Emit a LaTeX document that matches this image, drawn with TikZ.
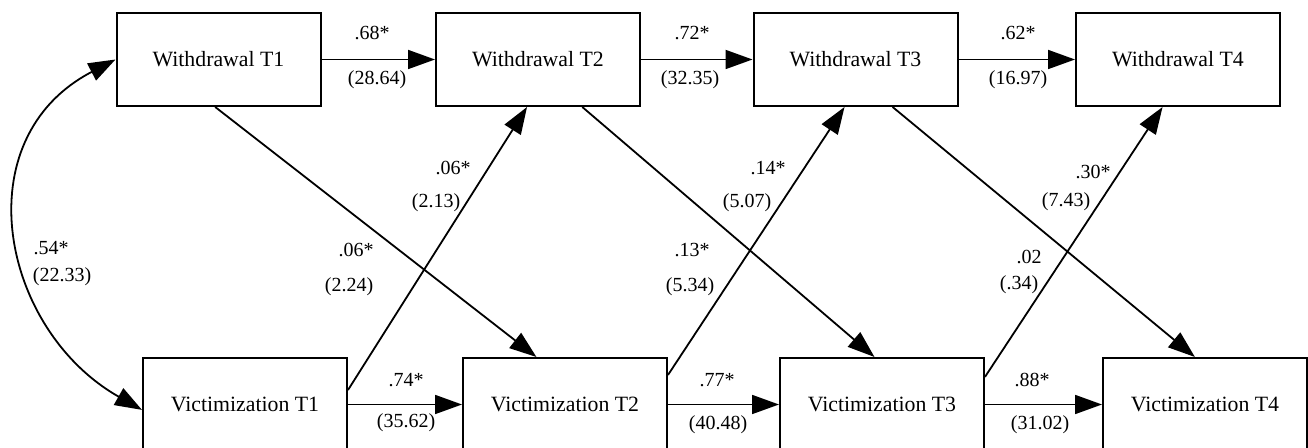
\documentclass[tikz,border=0pt]{standalone}
\usepackage{fontspec}
\setmainfont{Liberation Serif}
\usetikzlibrary{arrows.meta}

\begin{document}
\begin{tikzpicture}[x=0.5pt, y=-0.5pt,
    var/.style={rectangle, draw, line width=1pt, minimum width=102pt, minimum height=46.5pt, font=\fontsize{10.9}{12}\selectfont},
    coef/.style={inner sep=1pt, font=\fontsize{10}{12}\selectfont},
    effect/.style={line width=0.9pt, -{Triangle[length=13.5pt,width=9.5pt]}},
    covar/.style={line width=0.9pt, {Triangle[length=13.5pt,width=9.5pt]}-{Triangle[length=13.5pt,width=9.5pt]}}]
  \useasboundingbox (0,0) rectangle (1308,448);

  \node[var] (W1) at (218.5,59.5) {Withdrawal T1};
  \node[var] (W2) at (538,59.5) {Withdrawal T2};
  \node[var] (W3) at (855.5,59.5) {Withdrawal T3};
  \node[var] (W4) at (1178,59.5) {Withdrawal T4};
  \node[var] (V1) at (245,404.5) {Victimization T1};
  \node[var] (V2) at (565,404.5) {Victimization T2};
  \node[var] (V3) at (882,404.5) {Victimization T3};
  \node[var] (V4) at (1205,404.5) {Victimization T4};

  % stability paths
  \foreach \source/\dest in {W1/W2, W2/W3, W3/W4, V1/V2, V2/V3, V3/V4}
    \draw[effect] (\source) -- (\dest);

  % cross-lagged paths
  \foreach \source/\dest in {W1.266/V2.121, W2.313/V3.99, W3.308/V4.102, V1.8/W2.257, V2.16/W3.257, V3.15/W4.252}
    \draw[effect] (\source) -- (\dest);

  % T1 correlation
  \draw[covar] (W1.west) .. controls (-37,139) and (1,330) .. (V1.183);

  % coefficients
  \foreach \x/\y/\val [count=\i] in {372/33/.68*, 377/80/(28.64), 692/33/.72*, 690/80/(32.35),
      1018/33/.62*, 1018/80/(16.97), 406/380/.74*, 406/423/(35.62), 717/380/.77*, 718/425/(40.48),
      1032/380/.88*, 1040/425/(31.02), 453/168/.06*, 436/203/(2.13), 356/250/.06*, 349/287/(2.24),
      768/168/.14*, 747/203/(5.07), 692/250/.13*, 690/287/(5.34), 1093/172/.30*, 1066/202/(7.43),
      1029/257/.02, 1019/285/(.34), 51/248/.54*, 62/277/(22.33)}
    \node[coef] (c\i) at (\x,\y) {\val};
\end{tikzpicture}
\end{document}
